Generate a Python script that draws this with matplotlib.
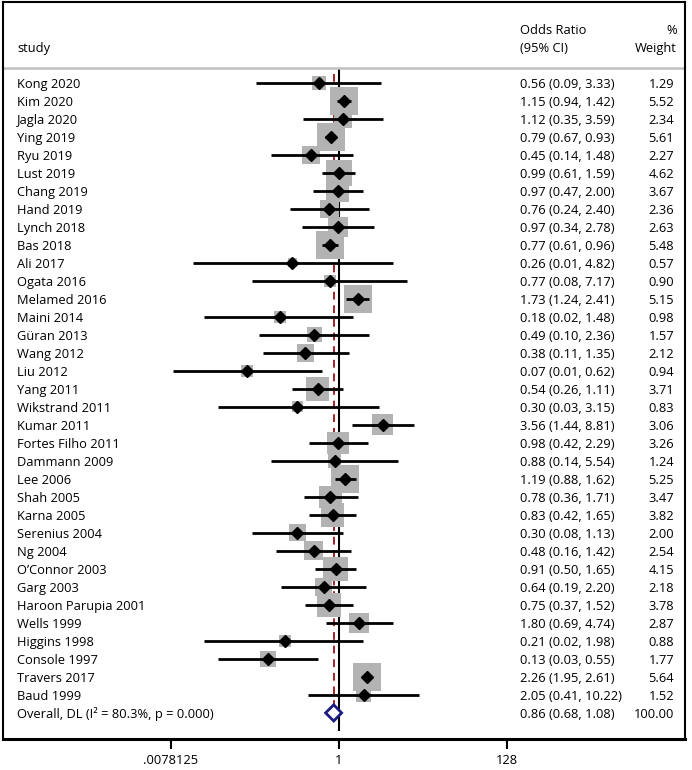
import numpy as np
import matplotlib
matplotlib.use('Agg')
import matplotlib.pyplot as plt
from matplotlib.patches import Polygon
from matplotlib.transforms import blended_transform_factory

# forest plot, odds ratios on a log2 axis

studies = ["Kong 2020", "Kim 2020", "Jagla 2020", "Ying 2019", "Ryu 2019",
           "Lust 2019", "Chang 2019", "Hand 2019", "Lynch 2018", "Bas 2018",
           "Ali 2017", "Ogata 2016", "Melamed 2016", "Maini 2014", "Güran 2013",
           "Wang 2012", "Liu 2012", "Yang 2011", "Wikstrand 2011", "Kumar 2011",
           "Fortes Filho 2011", "Dammann 2009", "Lee 2006", "Shah 2005",
           "Karna 2005", "Serenius 2004", "Ng 2004", "O\u2019Connor 2003",
           "Garg 2003", "Haroon Parupia 2001", "Wells 1999", "Higgins 1998",
           "Console 1997", "Travers 2017", "Baud 1999"]
odds = [0.56, 1.15, 1.12, 0.79, 0.45, 0.99, 0.97, 0.76, 0.97, 0.77,
        0.26, 0.77, 1.73, 0.18, 0.49, 0.38, 0.07, 0.54, 0.30, 3.56,
        0.98, 0.88, 1.19, 0.78, 0.83, 0.30, 0.48, 0.91, 0.64, 0.75,
        1.80, 0.21, 0.13, 2.26, 2.05]
ci_lo = [0.09, 0.94, 0.35, 0.67, 0.14, 0.61, 0.47, 0.24, 0.34, 0.61,
         0.0147, 0.08, 1.24, 0.02, 0.10, 0.11, 0.0082, 0.26, 0.03, 1.44,
         0.42, 0.14, 0.88, 0.36, 0.42, 0.08, 0.16, 0.50, 0.19, 0.37,
         0.69, 0.02, 0.03, 1.95, 0.41]
ci_hi = [3.33, 1.42, 3.59, 0.93, 1.48, 1.59, 2.00, 2.40, 2.78, 0.96,
         4.82, 7.17, 2.41, 1.48, 2.36, 1.35, 0.62, 1.11, 3.15, 8.81,
         2.29, 5.54, 1.62, 1.71, 1.65, 1.13, 1.42, 1.65, 2.20, 1.52,
         4.74, 1.98, 0.55, 2.61, 10.22]
weights = [1.29, 5.52, 2.34, 5.61, 2.27, 4.62, 3.67, 2.36, 2.63, 5.48,
           0.57, 0.90, 5.15, 0.98, 1.57, 2.12, 0.94, 3.71, 0.83, 3.06,
           3.26, 1.24, 5.25, 3.47, 3.82, 2.00, 2.54, 4.15, 2.18, 3.78,
           2.87, 0.88, 1.77, 5.64, 1.52]

overall_label = "Overall, DL (I\u00b2 = 80.3%, p = 0.000)"
overall = 0.86
overall_lo = 0.68
overall_hi = 1.08
overall_w = 100.00

tick_vals = [2.0 ** -7, 1, 2.0 ** 7]
tick_labels = [".0078125", "1", "128"]

plt.rcParams['font.family'] = ['Open Sans', 'DejaVu Sans']
FS = 9.3

W, H = 692, 770
fig = plt.figure(figsize=(W / 100, H / 100), dpi=100)
ax = fig.add_axes([3 / W, 31 / H, (685 - 3) / W, (739 - 2) / H])

n = len(studies)
rows = np.arange(n)
ov_row = n

# grey weight boxes, CI lines, point estimates
ax.scatter(odds, rows, s=74.6 * np.array(weights), marker='s',
           color='#b3b3b3', linewidths=0, zorder=2)
ax.hlines(rows, ci_lo, ci_hi, color='black', lw=2, zorder=3)
ax.plot(odds, rows, 'D', color='black', ms=6, zorder=4)

# overall diamond
dia = Polygon([[overall_lo, ov_row], [overall, ov_row - 0.45],
               [overall_hi, ov_row], [overall, ov_row + 0.45]],
              closed=True, facecolor='white', edgecolor='#1c1c80', lw=2, zorder=5)
ax.add_patch(dia)

ax.vlines(1, -0.83, 36.0, color='black', lw=1.5, zorder=1)
ax.vlines(overall, -0.5, 34.6, color='#a3232b', lw=1.4,
          linestyles=(0, (4, 3)), zorder=1.5)
ax.axhline(-0.83, color='#c0c0c0', lw=1.8)

ax.set_xscale('log', base=2)
ax.set_xlim(2.0 ** -14.0, 2.0 ** 14.42)
ax.set_ylim(36.45, -4.5)
ax.set_yticks([])
ax.set_xticks(tick_vals)
ax.set_xticklabels(tick_labels)
ax.minorticks_off()
ax.tick_params(axis='x', direction='out', length=7, width=1.5,
               labelsize=FS, pad=4)
for side in ['top', 'left', 'right']:
    ax.spines[side].set_linewidth(1.5)
ax.spines['bottom'].set_linewidth(2.2)

# text columns
tr = blended_transform_factory(fig.transFigure, ax.transData)
x_study = 17 / W
x_or = 520 / W
x_w = 674 / W
dy = 0.08

ax.text(x_study, -2 + dy, "study", transform=tr, fontsize=FS, va='center')
ax.text(x_or, -3 + dy, "Odds Ratio", transform=tr, fontsize=FS, va='center')
ax.text(x_or, -2 + dy, "(95% CI)", transform=tr, fontsize=FS, va='center')
ax.text(677 / W, -3 + dy, "%", transform=tr, fontsize=FS, va='center', ha='right')
ax.text(677 / W, -2 + dy, "Weight", transform=tr, fontsize=FS, va='center', ha='right')

for i in range(n):
    ax.text(x_study, i + dy, studies[i], transform=tr, fontsize=FS, va='center')
    ax.text(x_or, i + dy, f"{odds[i]:.2f} ({ci_lo[i]:.2f}, {ci_hi[i]:.2f})",
            transform=tr, fontsize=FS, va='center')
    ax.text(x_w, i + dy, f"{weights[i]:.2f}", transform=tr, fontsize=FS,
            va='center', ha='right')

ax.text(x_study, ov_row + dy, overall_label, transform=tr, fontsize=FS, va='center')
ax.text(x_or, ov_row + dy, f"{overall:.2f} ({overall_lo:.2f}, {overall_hi:.2f})",
        transform=tr, fontsize=FS, va='center')
ax.text(x_w, ov_row + dy, f"{overall_w:.2f}", transform=tr, fontsize=FS,
        va='center', ha='right')

fig.savefig('out.png', dpi=100)
